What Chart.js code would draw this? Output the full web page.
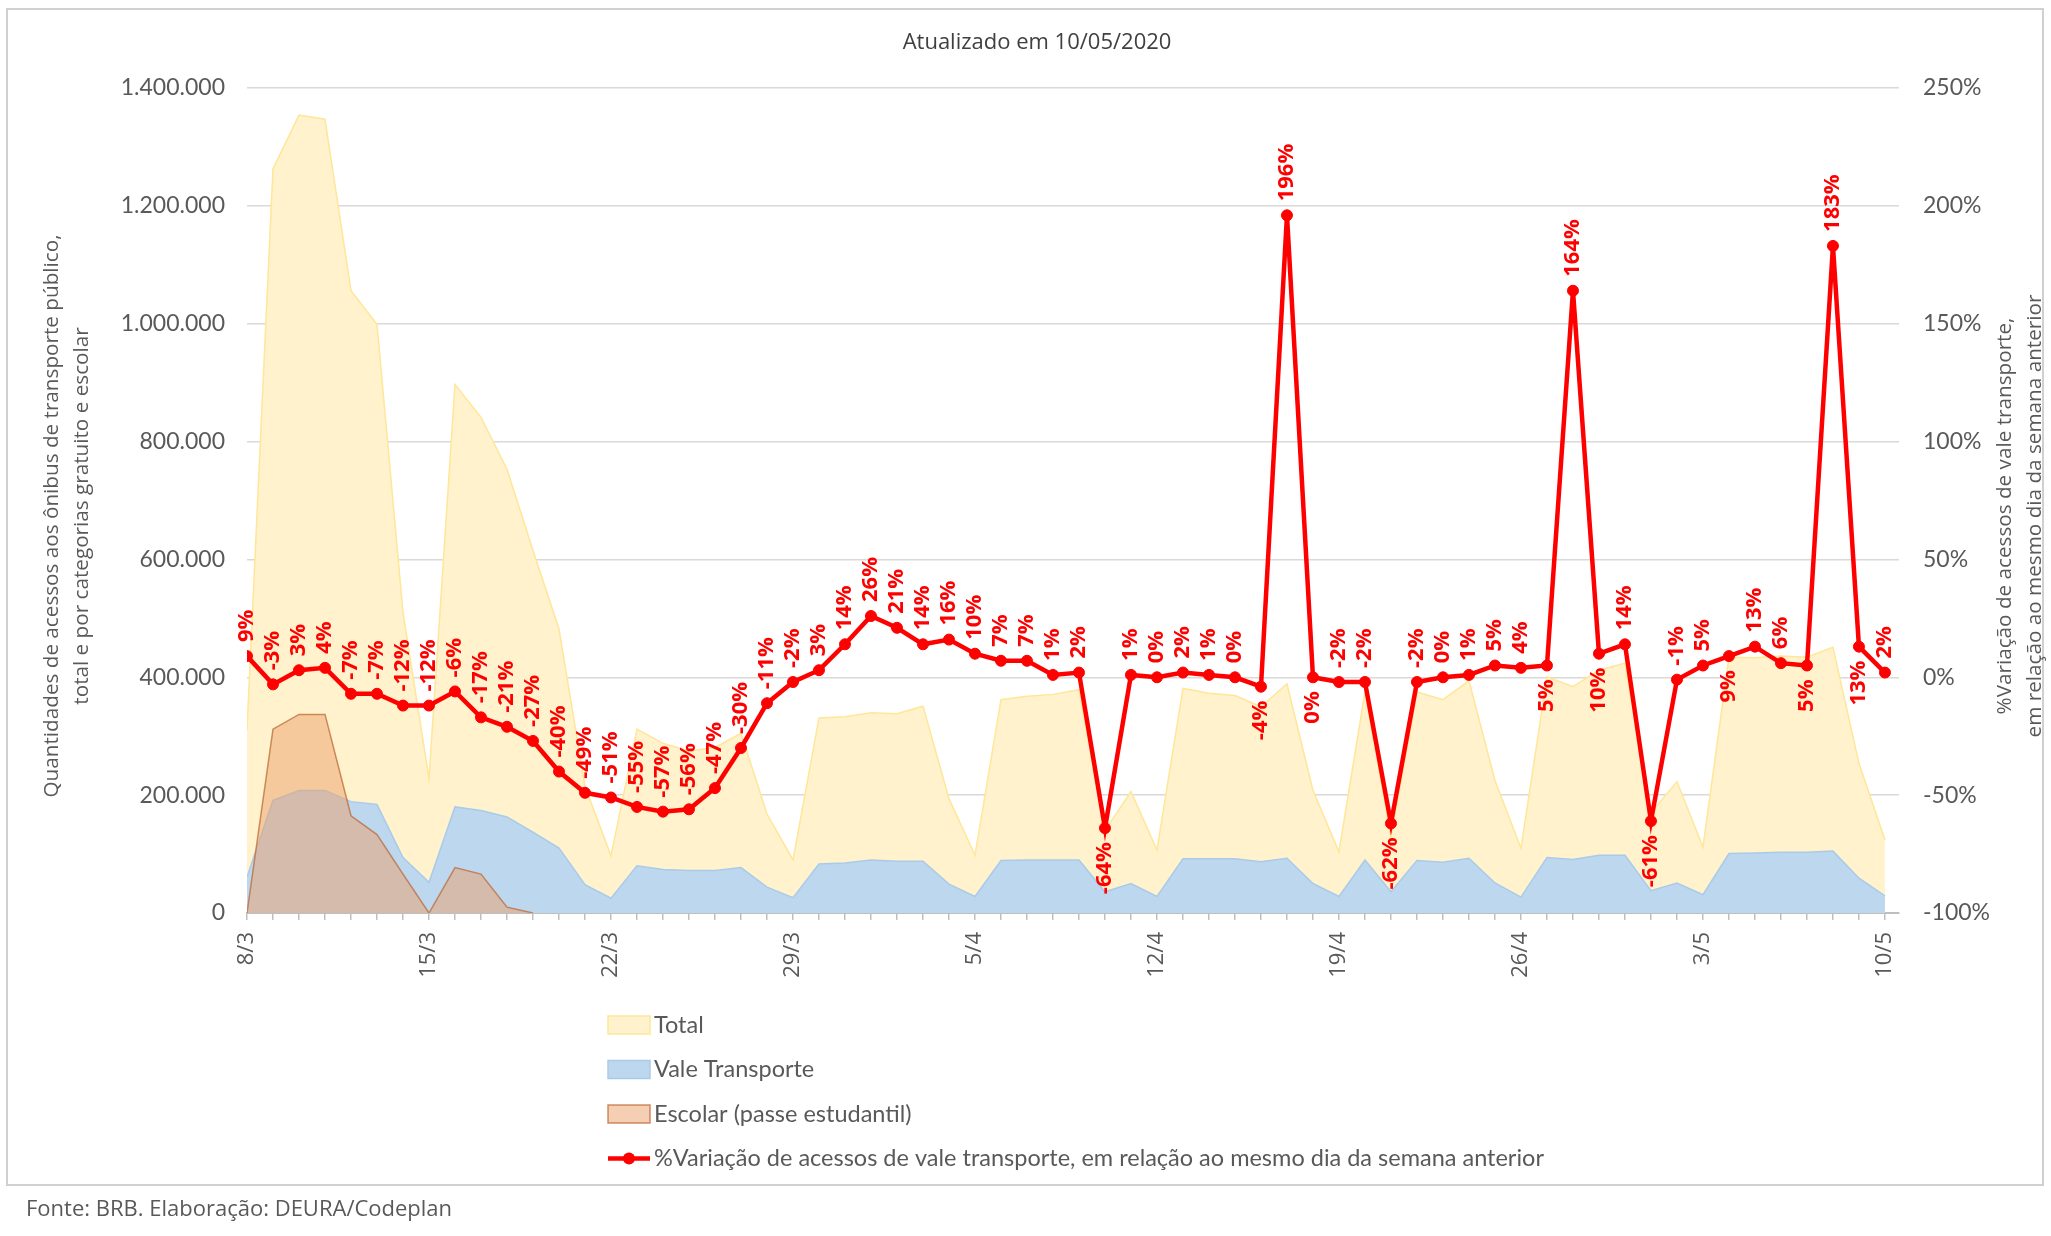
<!DOCTYPE html>
<html lang="pt-BR">
<head>
<meta charset="utf-8">
<title>Acessos aos ônibus - DF</title>
<script src="https://cdn.jsdelivr.net/npm/chart.js@4.4.1/dist/chart.umd.min.js"></script>
<style>
  html, body { margin: 0; padding: 0; background: #fff; }
  #wrap { position: relative; width: 2051px; height: 1236px; }
  canvas { display: block; }
</style>
</head>
<body>
<div id="wrap"><canvas id="grafico" width="2051" height="1236"></canvas></div>
<script>
// dias de 8/3 a 10/5 (2020)
const dias = [
  '8/3', '9/3', '10/3', '11/3', '12/3', '13/3', '14/3', '15/3', '16/3', '17/3', '18/3', '19/3',
  '20/3', '21/3', '22/3', '23/3', '24/3', '25/3', '26/3', '27/3', '28/3', '29/3', '30/3', '31/3',
  '1/4', '2/4', '3/4', '4/4', '5/4', '6/4', '7/4', '8/4', '9/4', '10/4', '11/4', '12/4',
  '13/4', '14/4', '15/4', '16/4', '17/4', '18/4', '19/4', '20/4', '21/4', '22/4', '23/4', '24/4',
  '25/4', '26/4', '27/4', '28/4', '29/4', '30/4', '1/5', '2/5', '3/5', '4/5', '5/5', '6/5',
  '7/5', '8/5', '9/5', '10/5'
];

// acessos totais
const total = [
  310000, 1263000, 1354000, 1347000, 1056000, 999000, 510000, 228000, 897000, 841000, 753000, 615000,
  482000, 215000, 97000, 312000, 288000, 275000, 281000, 305000, 168000, 90000, 331000, 333000,
  340000, 338000, 351000, 194000, 98000, 362000, 368000, 371000, 379000, 140000, 206000, 107000,
  381000, 373000, 369000, 350000, 389000, 208000, 104000, 375000, 130000, 375000, 362000, 394000,
  225000, 110000, 401000, 384000, 412000, 424000, 170000, 223000, 112000, 434000, 433000, 436000,
  434000, 451000, 254000, 124000
];

// acessos com vale transporte
const valeTransporte = [
  61000, 191000, 208000, 208000, 189000, 184000, 94000, 52000, 180000, 174000, 163000, 137000,
  110000, 48000, 25000, 80000, 74000, 72000, 72000, 77000, 44000, 26000, 83000, 85000,
  90000, 88000, 88000, 49000, 28000, 89000, 90000, 90000, 90000, 36000, 50000, 28000,
  92000, 92000, 92000, 87000, 93000, 50000, 28000, 90000, 36000, 89000, 86000, 93000,
  51000, 27000, 94000, 91000, 98000, 98000, 38000, 51000, 31000, 101000, 102000, 103000,
  103000, 105000, 59000, 29000
];

// passe estudantil (só até 19/3)
const escolar = [0, 312000, 337000, 337000, 165000, 133000, 66000, 0, 77000, 66000, 10000, 0];

// % variação do vale transporte vs mesmo dia da semana anterior
const variacao = [
  9, -3, 3, 4, -7, -7, -12, -12, -6, -17, -21, -27,
  -40, -49, -51, -55, -57, -56, -47, -30, -11, -2, 3, 14,
  26, 21, 14, 16, 10, 7, 7, 1, 2, -64, 1, 0,
  2, 1, 0, -4, 196, 0, -2, -2, -62, -2, 0, 1,
  5, 4, 5, 164, 10, 14, -61, -1, 5, 9, 13, 6,
  5, 183, 13, 2
];

// rótulos que ficam embaixo do ponto
const rotulosAbaixo = [33, 39, 41, 44, 50, 52, 54, 57, 60, 62];

const cinza = '#595959';
const fmtMil = v => String(v).replace(/\B(?=(\d{3})+(?!\d))/g, '.');
const pontos = arr => arr.map((v, i) => ({ x: i, y: v }));

// rótulos verticais em vermelho sobre a linha
const rotulosLinha = {
  id: 'rotulosLinha',
  afterDatasetsDraw(chart) {
    const meta = chart.getDatasetMeta(0);
    const ctx = chart.ctx;
    ctx.save();
    ctx.fillStyle = '#ff0000';
    ctx.font = 'bold 22px "Open Sans"';
    ctx.textBaseline = 'middle';
    meta.data.forEach((p, i) => {
      const abaixo = rotulosAbaixo.includes(i);
      ctx.save();
      ctx.translate(p.x, abaixo ? p.y + 14 : p.y - 14);
      ctx.rotate(-Math.PI / 2);
      ctx.textAlign = abaixo ? 'right' : 'left';
      ctx.fillText(variacao[i] + '%', 0, 0);
      ctx.restore();
    });
    ctx.restore();
  }
};

// título, títulos dos eixos, legenda, fonte e moldura
const enfeites = {
  id: 'enfeites',
  beforeDraw(chart) {
    const ctx = chart.ctx;
    ctx.save();
    ctx.fillStyle = '#fff';
    ctx.fillRect(0, 0, chart.width, chart.height);
    ctx.restore();
  },
  afterDraw(chart) {
    const ctx = chart.ctx;
    ctx.save();
    // moldura
    ctx.strokeStyle = '#d0d0d0';
    ctx.lineWidth = 2;
    ctx.strokeRect(7, 9, 2036, 1176);

    ctx.fillStyle = '#404040';
    ctx.font = '22px "Open Sans"';
    ctx.textAlign = 'center';
    ctx.textBaseline = 'middle';
    ctx.fillText('Atualizado em 10/05/2020', 1037, 43);

    // título eixo esquerdo
    ctx.fillStyle = cinza;
    ctx.font = '20.7px "Open Sans"';
    ctx.save();
    ctx.translate(52, 516);
    ctx.rotate(-Math.PI / 2);
    ctx.fillText('Quantidades de acessos aos ônibus de transporte público,', 0, 0);
    ctx.fillText('total e por categorias gratuito e escolar', 0, 30);
    ctx.restore();

    // título eixo direito
    ctx.save();
    ctx.translate(2005, 516);
    ctx.rotate(-Math.PI / 2);
    ctx.fillText('%Variação de acessos de vale transporte,', 0, 0);
    ctx.fillText('em relação ao mesmo dia da semana anterior', 0, 30);
    ctx.restore();

    // legenda
    const ds = chart.data.datasets;
    const ordemLegenda = [3, 2, 1, 0];
    ctx.font = '23.5px Lato';
    ctx.textAlign = 'left';
    ordemLegenda.forEach((k, j) => {
      const d = ds[k];
      const y = 1025 + j * 44.5;
      if (k === 0) {
        ctx.strokeStyle = d.borderColor;
        ctx.lineWidth = 4.5;
        ctx.beginPath();
        ctx.moveTo(608, y);
        ctx.lineTo(650, y);
        ctx.stroke();
        ctx.fillStyle = d.borderColor;
        ctx.beginPath();
        ctx.arc(629, y, 6, 0, Math.PI * 2);
        ctx.fill();
      } else {
        ctx.fillStyle = '#fff';
        ctx.fillRect(608, y - 9, 42, 18);
        ctx.fillStyle = d.backgroundColor;
        ctx.fillRect(608, y - 9, 42, 18);
        ctx.strokeStyle = d.borderColor;
        ctx.lineWidth = 1.5;
        ctx.strokeRect(608, y - 9, 42, 18);
      }
      ctx.fillStyle = cinza;
      ctx.fillText(d.label, 654, y);
    });

    // fonte
    ctx.font = '22px "Open Sans"';
    ctx.fillText('Fonte: BRB. Elaboração: DEURA/Codeplan', 26, 1210);
    ctx.restore();
  }
};

new Chart(document.getElementById('grafico'), {
  type: 'line',
  data: {
    datasets: [
      {
        label: '%Variação de acessos de vale transporte, em relação ao mesmo dia da semana anterior',
        data: pontos(variacao),
        yAxisID: 'y1',
        borderColor: '#ff0000',
        backgroundColor: '#ff0000',
        borderWidth: 4.5,
        pointRadius: 5.5,
        pointBorderWidth: 1,
        fill: false,
        order: 0
      },
      {
        label: 'Escolar (passe estudantil)',
        data: pontos(escolar),
        yAxisID: 'y',
        backgroundColor: 'rgba(236,160,106,0.5)',
        borderColor: 'rgba(190,105,55,0.75)',
        borderWidth: 1.5,
        pointRadius: 0,
        fill: 'origin',
        order: 1
      },
      {
        label: 'Vale Transporte',
        data: pontos(valeTransporte),
        yAxisID: 'y',
        backgroundColor: '#bdd7ee',
        borderColor: '#a9cbe9',
        borderWidth: 1.5,
        pointRadius: 0,
        fill: 'origin',
        order: 2
      },
      {
        label: 'Total',
        data: pontos(total),
        yAxisID: 'y',
        backgroundColor: '#fff2cc',
        borderColor: '#ffe699',
        borderWidth: 1.5,
        pointRadius: 0,
        fill: 'origin',
        order: 3
      }
    ]
  },
  options: {
    responsive: false,
    animation: false,
    devicePixelRatio: 1,
    layout: { padding: { left: 0, right: 0, top: 88, bottom: 0 } },
    plugins: {
      legend: { display: false },
      tooltip: { enabled: false }
    },
    scales: {
      x: {
        type: 'linear',
        min: 0,
        max: 63.54,
        afterBuildTicks: s => { s.ticks = dias.map((d, i) => ({ value: i })); },
        afterFit: s => { s.height = 323; },
        ticks: {
          autoSkip: false,
          minRotation: 90,
          maxRotation: 90,
          padding: 12,
          color: cinza,
          font: { family: 'Open Sans', size: 22 },
          callback: v => (v % 7 === 0 ? dias[v] : '')
        },
        grid: { drawOnChartArea: false, drawTicks: true, tickLength: 7, color: '#bfbfbf', lineWidth: 1.5 },
        border: { display: true, color: '#bfbfbf', width: 2 }
      },
      y: {
        position: 'left',
        min: 0,
        max: 1400000,
        afterFit: s => { s.width = 247; },
        ticks: { stepSize: 200000, padding: 22, color: cinza, font: { family: 'Lato', size: 23 }, callback: v => fmtMil(v) },
        grid: { color: '#d9d9d9', lineWidth: 1.5, drawTicks: false },
        border: { display: false }
      },
      y1: {
        position: 'right',
        min: -100,
        max: 250,
        afterFit: s => { s.width = 152; },
        ticks: { stepSize: 50, padding: 24, color: cinza, font: { family: 'Lato', size: 23 }, callback: v => v + '%' },
        grid: { drawOnChartArea: false, drawTicks: false },
        border: { display: false }
      }
    }
  },
  plugins: [enfeites, rotulosLinha]
});
</script>
</body>
</html>
